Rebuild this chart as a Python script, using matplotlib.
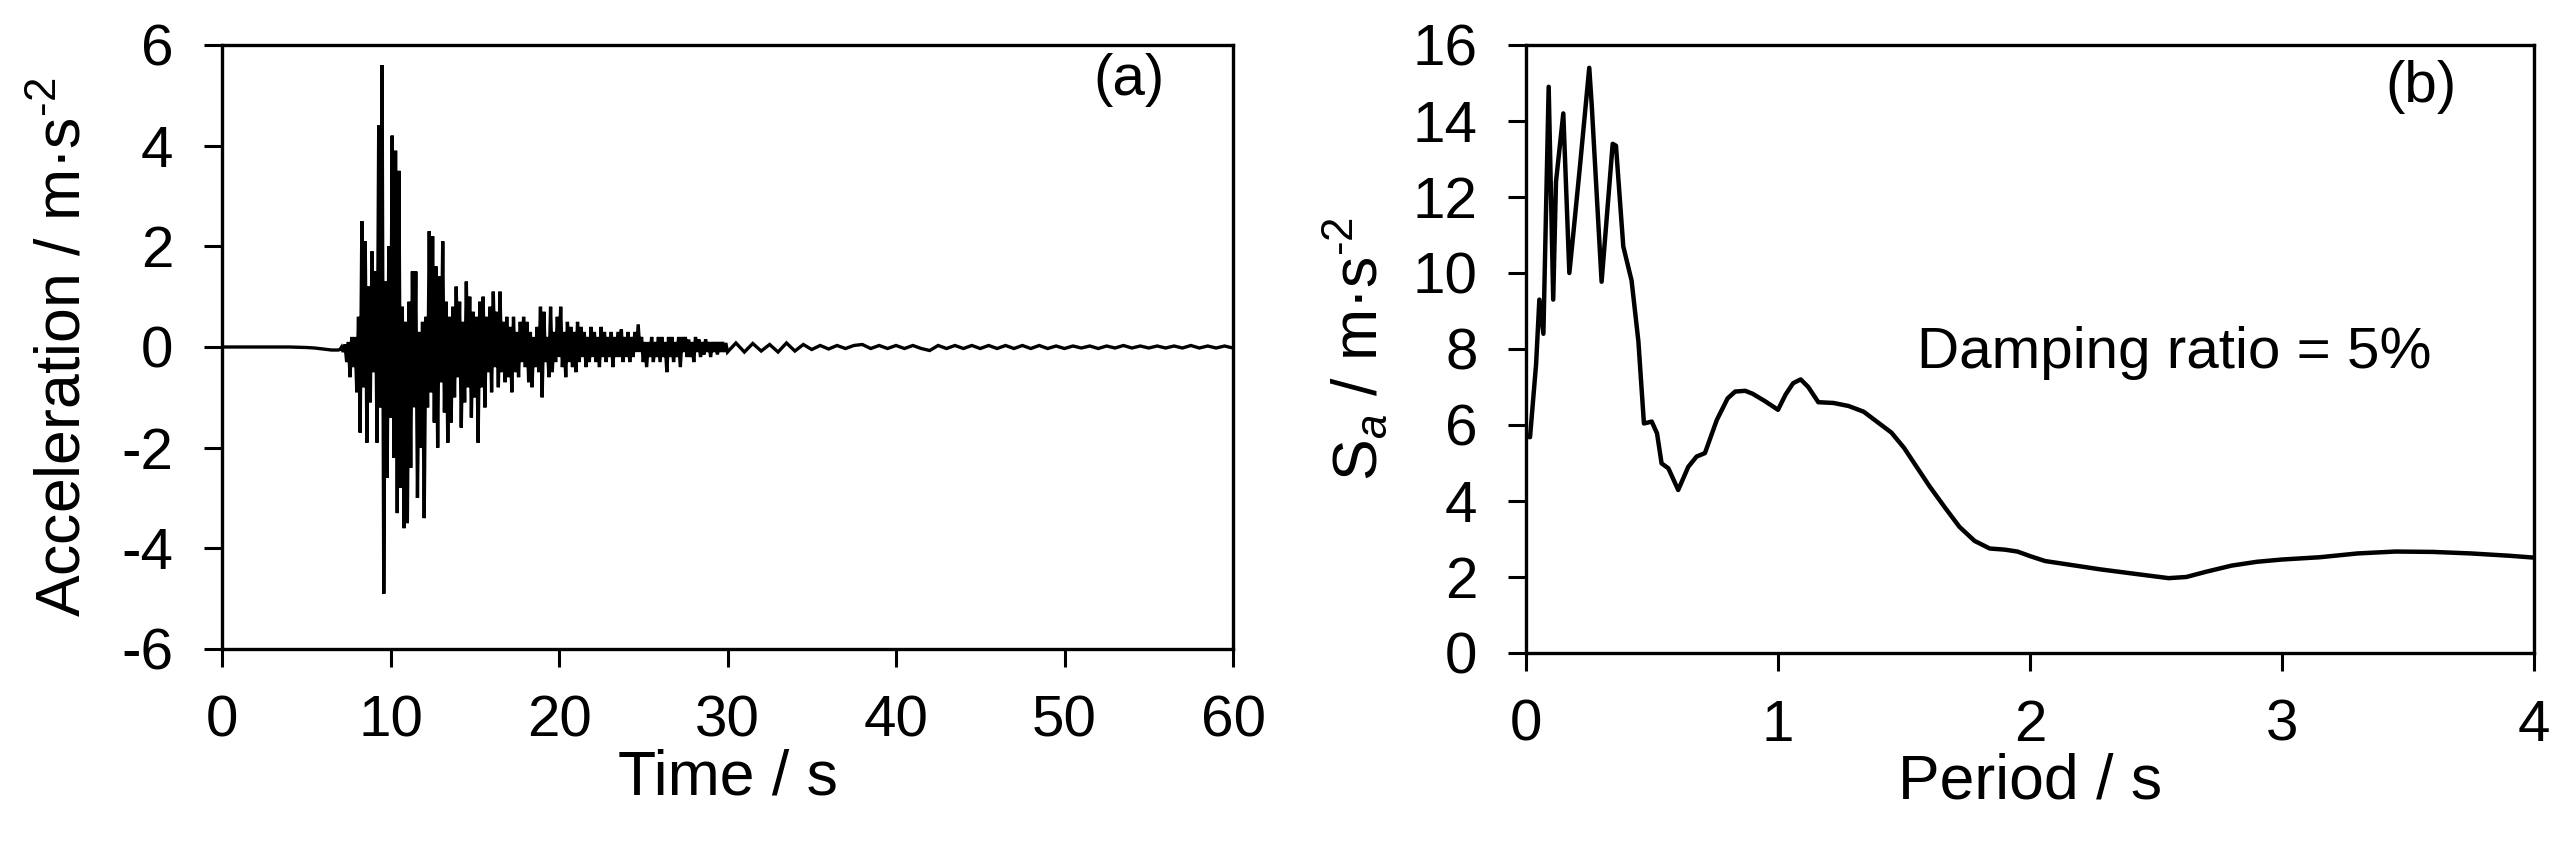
import numpy as np
import matplotlib
matplotlib.use("Agg")
import matplotlib.pyplot as plt

plt.rcParams['font.family'] = ['Liberation Sans', 'DejaVu Sans']
plt.rcParams['mathtext.fontset'] = 'custom'
plt.rcParams['mathtext.rm'] = 'Liberation Sans'
plt.rcParams['mathtext.it'] = 'Liberation Sans:italic'
plt.rcParams['axes.unicode_minus'] = False

# ---------------- data: (a) acceleration time history ----------------
time_early = [0.0, 1.0, 2.0, 3.0, 4.0, 5.0, 5.5, 6.0, 6.5, 6.9]
accel_early = [0.0, 0.0, 0.0, 0.0, 0.0, -0.01, -0.02, -0.04, -0.06, -0.06]

time_main = np.round(np.arange(7.0, 30.001, 0.1), 1)
accel_main = [
    -0.05, 0.0, -0.1, 0.05, -0.3, 0.1, -0.6, 0.2, -0.4, 0.2,      # 7
    -0.9, 0.6, -1.7, 2.5, -0.8, 2.1, -1.9, 1.2, -1.1, 1.9,        # 8
    -0.5, 1.5, -1.9, 4.4, -1.2, 5.6, -4.9, 1.3, -2.6, 2.0,        # 9
    -1.4, 4.2, -2.2, 3.9, -3.3, 3.5, -2.8, 0.8, -3.6, 0.5,        # 10
    -3.5, 0.9, -2.4, 1.5, -1.2, 1.5, -3.0, 0.3, -2.0, 0.5,        # 11
    -3.4, 0.6, -1.2, 2.3, -0.9, 2.2, -1.5, 1.6, -2.0, 1.4,        # 12
    -0.7, 2.1, -1.3, 0.9, -1.9, 0.6, -1.5, 0.8, -1.0, 1.2,        # 13
    -0.6, 0.9, -1.6, 0.5, -1.1, 1.3, -0.8, 1.0, -1.4, 0.7,        # 14
    -1.0, 0.6, -1.9, 0.9, -0.8, 1.0, -1.2, 0.6, -0.5, 0.8,        # 15
    -0.9, 1.1, -0.4, 0.7, -0.8, 1.1, -0.5, 0.5, -0.7, 0.6,        # 16
    -0.6, 0.4, -0.9, 0.6, -0.5, 0.3, -0.6, 0.5, -0.3, 0.6,        # 17
    -0.4, 0.5, -0.7, 0.3, -0.8, 0.2, -0.4, 0.4, -0.5, 0.8,        # 18
    -1.0, 0.7, -0.3, 0.2, -0.6, 0.8, -0.5, 0.3, -0.3, 0.6,        # 19
    -0.2, 0.8, -0.4, 0.3, -0.6, 0.5, -0.3, 0.4, -0.4, 0.3,        # 20
    -0.5, 0.5, -0.3, 0.4, -0.2, 0.3, -0.4, 0.2, -0.3, 0.4,        # 21
    -0.2, 0.3, -0.3, 0.2, -0.4, 0.4, -0.2, 0.3, -0.3, 0.2,        # 22
    -0.2, 0.3, -0.4, 0.2, -0.2, 0.3, -0.2, 0.35, -0.3, 0.2,       # 23
    -0.2, 0.3, -0.3, 0.2, -0.2, 0.3, -0.1, 0.45, -0.1, 0.2,       # 24
    -0.3, 0.1, -0.4, 0.1, -0.2, 0.2, -0.3, 0.1, -0.2, 0.2,        # 25
    -0.3, 0.2, -0.2, 0.1, -0.5, 0.2, -0.2, 0.2, -0.3, 0.1,        # 26
    -0.2, 0.2, -0.4, 0.2, -0.1, 0.2, -0.2, 0.15, -0.2, 0.1,       # 27
    -0.3, 0.2, -0.1, 0.15, -0.2, 0.1, -0.15, 0.15, -0.1, 0.1,     # 28
    -0.2, 0.1, -0.1, 0.1, -0.15, 0.1, -0.1, 0.1, -0.1, 0.08,      # 29
    -0.1,                                                          # 30
]

time_late = np.round(np.arange(30.5, 60.001, 0.5), 1)
accel_late = [
    0.08, -0.10, 0.07, -0.08, 0.05, -0.10, 0.08, -0.08, 0.05, -0.05,
    0.03, -0.04, 0.03, -0.03, 0.03, 0.05, -0.03, 0.03, -0.03, 0.03,
    -0.03, 0.03, -0.03, -0.07, 0.03, -0.03, 0.03, -0.03, 0.03, -0.03,
    0.03, -0.03, 0.03, -0.03, 0.03, -0.03, 0.03, -0.03, 0.02, -0.03,
    0.02, -0.02, 0.02, -0.03, 0.02, -0.02, 0.03, -0.02, 0.02, -0.02,
    0.02, -0.02, 0.02, -0.02, 0.03, -0.02, 0.02, -0.02, 0.02, -0.02,
]

# ---------------- data: (b) response spectrum ----------------
period = [0.0, 0.016, 0.04, 0.053, 0.069, 0.09, 0.108, 0.119, 0.148, 0.172,
          0.188, 0.214, 0.251, 0.261, 0.30, 0.344, 0.357, 0.386, 0.419, 0.446,
          0.468, 0.499, 0.52, 0.538, 0.565, 0.604, 0.644, 0.677, 0.71, 0.757,
          0.80, 0.83, 0.87, 0.90, 0.95, 1.0, 1.03, 1.06, 1.09, 1.12,
          1.16, 1.22, 1.28, 1.34, 1.39, 1.45, 1.50, 1.55, 1.60, 1.66,
          1.72, 1.78, 1.84, 1.90, 1.95, 2.0, 2.06, 2.15, 2.28, 2.42,
          2.55, 2.62, 2.70, 2.80, 2.90, 3.0, 3.15, 3.30, 3.45, 3.60,
          3.75, 3.90, 4.0]
sa = [5.7, 5.68, 7.6, 9.3, 8.4, 14.9, 9.3, 12.4, 14.2, 10.0,
      11.05, 12.8, 15.4, 14.4, 9.77, 13.4, 13.35, 10.7, 9.8, 8.2,
      6.04, 6.09, 5.78, 4.99, 4.86, 4.29, 4.9, 5.17, 5.26, 6.13,
      6.7, 6.88, 6.9, 6.82, 6.62, 6.4, 6.8, 7.1, 7.2, 7.0,
      6.6, 6.58, 6.5, 6.35, 6.1, 5.8, 5.4, 4.9, 4.4, 3.85,
      3.32, 2.95, 2.75, 2.72, 2.67, 2.55, 2.42, 2.33, 2.2, 2.08,
      1.97, 2.0, 2.14, 2.3, 2.4, 2.46, 2.52, 2.62, 2.67, 2.66,
      2.62, 2.56, 2.51]

acc_xticks = [0, 10, 20, 30, 40, 50, 60]
acc_yticks = [-6, -4, -2, 0, 2, 4, 6]
sa_xticks = [0, 1, 2, 3, 4]
sa_yticks = [0, 2, 4, 6, 8, 10, 12, 14, 16]

time_all = np.concatenate([time_early, time_main, time_late])
accel_all = np.concatenate([accel_early, accel_main, accel_late])

W, H, DPI = 2564, 851, 100
fig = plt.figure(figsize=(W / DPI, H / DPI), dpi=DPI)

ax1 = fig.add_axes([222 / W, (H - 649) / H, 1011 / W, 604 / H])
ax2 = fig.add_axes([1526 / W, (H - 653) / H, 1008 / W, 608 / H])

TICK_FS = 42
LABEL_FS = 45

for ax in (ax1, ax2):
    for sp in ax.spines.values():
        sp.set_linewidth(2.4)
        sp.set_color('black')
    ax.tick_params(direction='out', length=13, width=2.2, labelsize=TICK_FS,
                   top=False, right=False, color='black')
    ax.tick_params(axis='y', pad=22)
    ax.tick_params(axis='x', pad=20)

ax1.plot(time_all, accel_all, color='black', linewidth=2.4, solid_joinstyle='miter')
ax1.set_xlim(0, 60)
ax1.set_ylim(-6, 6)
ax1.set_xticks(acc_xticks)
ax1.set_yticks(acc_yticks)
ax1.set_xlabel('Time / s', fontsize=LABEL_FS, labelpad=0)
ax1.set_ylabel(r'Acceleration / m·s$^{\text{-2}}$', fontsize=LABEL_FS, labelpad=20)
ax1.text(53.8, 5.3, '(a)', fontsize=TICK_FS, ha='center', va='center')

ax2.plot(period, sa, color='black', linewidth=3.2)
ax2.set_xlim(0, 4)
ax2.set_ylim(0, 16)
ax2.set_xticks(sa_xticks)
ax2.set_yticks(sa_yticks)
ax2.set_xlabel('Period / s', fontsize=LABEL_FS, labelpad=0)
ax2.set_ylabel(r'S$_{\mathit{a}}$ / m·s$^{\text{-2}}$', fontsize=LABEL_FS, labelpad=16)
ax2.text(3.55, 14.9, '(b)', fontsize=TICK_FS, ha='center', va='center')
ax2.text(1.55, 7.9, 'Damping ratio = 5%', fontsize=TICK_FS, ha='left', va='center')

fig.savefig('out.png', dpi=DPI)
